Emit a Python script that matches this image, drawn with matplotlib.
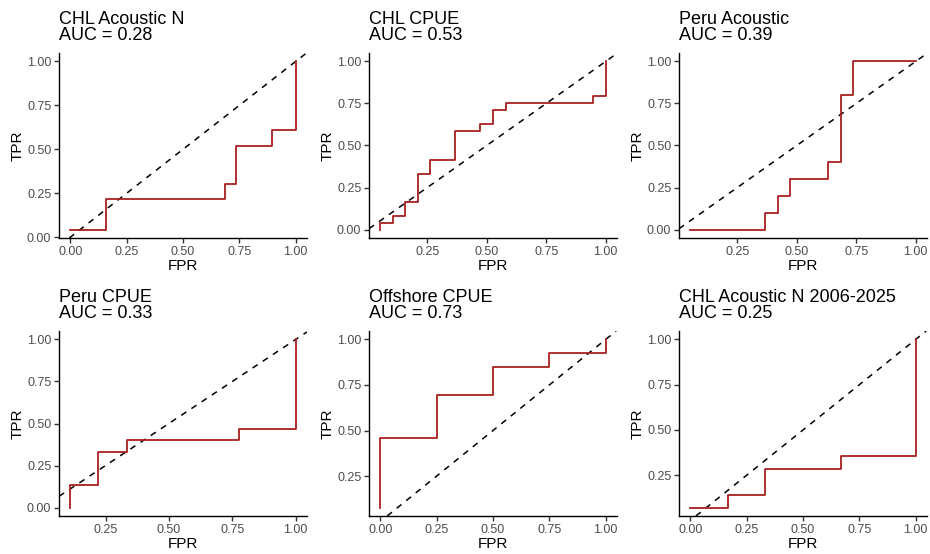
import numpy as np
import matplotlib
matplotlib.use("Agg")
import matplotlib.pyplot as plt
from matplotlib.ticker import MultipleLocator, FormatStrFormatter

plt.rcParams['font.family'] = ['Liberation Sans', 'DejaVu Sans']

# ROC curves, one step point per row (steps-post)
titles = ["CHL Acoustic N", "CHL CPUE", "Peru Acoustic",
          "Peru CPUE", "Offshore CPUE", "CHL Acoustic N 2006-2025"]
aucs = [0.28, 0.53, 0.39, 0.33, 0.73, 0.25]

chl_ac_fpr = [0, 3/19, 13/19, 14/19, 17/19, 1.0]
chl_ac_tpr = [1/23, 5/23, 7/23, 12/23, 14/23, 1.0]

chl_cpue_fpr = [1/19, 1/19, 2/19, 3/19, 4/19, 5/19, 7/19, 9/19, 10/19, 11/19, 18/19, 1.0]
chl_cpue_tpr = [0, 1/24, 2/24, 4/24, 8/24, 10/24, 14/24, 15/24, 17/24, 18/24, 19/24, 1.0]

peru_ac_fpr = [1/19, 7/19, 8/19, 9/19, 12/19, 13/19, 14/19, 1.0]
peru_ac_tpr = [0, 0.1, 0.2, 0.3, 0.4, 0.8, 1.0, 1.0]

peru_cpue_fpr = [1/9, 1/9, 2/9, 3/9, 7/9, 1.0]
peru_cpue_tpr = [0, 2/15, 5/15, 6/15, 7/15, 1.0]

off_cpue_fpr = [0, 0, 0.25, 0.5, 0.75, 1.0]
off_cpue_tpr = [1/13, 6/13, 9/13, 11/13, 12/13, 1.0]

chl_ac2_fpr = [0, 1/6, 2/6, 4/6, 1.0]
chl_ac2_tpr = [1/14, 2/14, 4/14, 5/14, 1.0]

fprs = [chl_ac_fpr, chl_cpue_fpr, peru_ac_fpr, peru_cpue_fpr, off_cpue_fpr, chl_ac2_fpr]
tprs = [chl_ac_tpr, chl_cpue_tpr, peru_ac_tpr, peru_cpue_tpr, off_cpue_tpr, chl_ac2_tpr]

W, H = 930, 554
fig = plt.figure(figsize=(W / 100, H / 100), dpi=100)

lefts = [59, 369, 679]
tops = [53, 331]
pw, ph = 248, 185


def expand(v):
    lo, hi = min(v), max(v)
    d = (hi - lo) * 0.05
    return lo - d, hi + d


for i in range(6):
    r, c = divmod(i, 3)
    ax = fig.add_axes([lefts[c] / W, 1 - (tops[r] + ph) / H, pw / W, ph / H])
    x = np.array(fprs[i])
    y = np.array(tprs[i])
    ax.set_xlim(*expand(x))
    ax.set_ylim(*expand(y))
    ax.axline((0, 0), (1, 1), color='black', lw=1.1, ls=(0, (4, 4)))
    ax.step(x, y, where='post', color='#a8201f', lw=1.3)

    ax.xaxis.set_major_locator(MultipleLocator(0.25))
    ax.yaxis.set_major_locator(MultipleLocator(0.25))
    ax.xaxis.set_major_formatter(FormatStrFormatter('%.2f'))
    ax.yaxis.set_major_formatter(FormatStrFormatter('%.2f'))
    ax.tick_params(labelsize=9, labelcolor='#4d4d4d', color='#333333',
                   length=3.5, width=1.0, pad=2)
    for s in ['top', 'right']:
        ax.spines[s].set_visible(False)
    for s in ['left', 'bottom']:
        ax.spines[s].set_linewidth(1.0)
    ax.set_xlabel('FPR', fontsize=11, labelpad=1)
    ax.set_ylabel('TPR', fontsize=11, labelpad=2)
    ax.set_title(f"{titles[i]}\nAUC = {aucs[i]:.2f}", loc='left',
                 fontsize=13, pad=9, linespacing=1.0)

fig.savefig('out.png', dpi=100)
